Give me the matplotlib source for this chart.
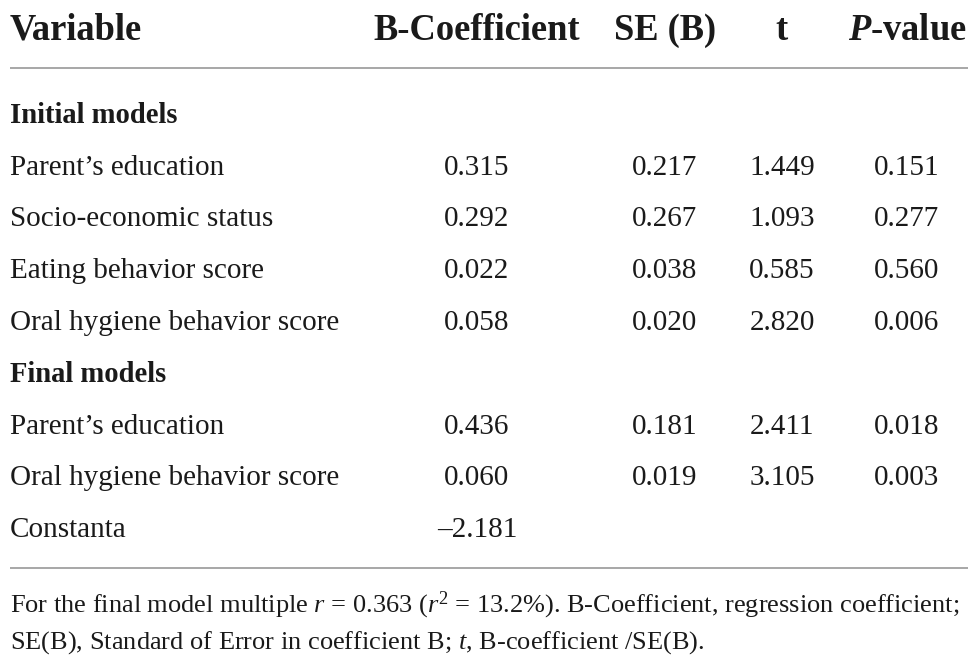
import matplotlib
matplotlib.use("Agg")
import matplotlib.pyplot as plt

# ---- table content ----
headers = ["Variable", "B-Coefficient", "SE (B)", "t", r"$\mathbfit{P}$-value"]
sections = ["Initial models", "Final models"]

initial_vars = ["Parent\u2019s education", "Socio-economic status",
                "Eating behavior score", "Oral hygiene behavior score"]
initial_b = ["0.315", "0.292", "0.022", "0.058"]
initial_se = ["0.217", "0.267", "0.038", "0.020"]
initial_t = ["1.449", "1.093", "0.585", "2.820"]
initial_p = ["0.151", "0.277", "0.560", "0.006"]

final_vars = ["Parent\u2019s education", "Oral hygiene behavior score", "Constanta"]
final_b = ["0.436", "0.060", "\u20132.181"]
final_se = ["0.181", "0.019", ""]
final_t = ["2.411", "3.105", ""]
final_p = ["0.018", "0.003", ""]

footnote = [
    r"For the final model multiple $r$ = 0.363 ($r^2$ = 13.2%). B-Coefficient, regression coefficient;",
    r"SE(B), Standard of Error in coefficient B; $t$, B-coefficient /SE(B).",
]

plt.rcParams["font.family"] = ["Liberation Serif", "DejaVu Serif"]
plt.rcParams["mathtext.fontset"] = "custom"
plt.rcParams["mathtext.rm"] = "Liberation Serif"
plt.rcParams["mathtext.it"] = "Liberation Serif:italic"
plt.rcParams["mathtext.bf"] = "Liberation Serif:bold"
plt.rcParams["mathtext.bfit"] = "Liberation Serif:bold:italic"

W, H = 979, 666
fig = plt.figure(figsize=(W / 100, H / 100), dpi=100)
ax = fig.add_axes([0, 0, 1, 1])
ax.set_xlim(0, W)
ax.set_ylim(H, 0)
ax.axis("off")

txt = "#1a1a1a"
rule = "#a0a0a0"
col_x = [10, 477, 665, 782, 907]
head_size = 26.3
sect_size = 20.6
body_size = 21
foot_size = 19

# header
ax.text(col_x[0], 40, headers[0], fontsize=head_size, fontweight="bold",
        va="baseline", ha="left", color=txt)
for x, h in zip(col_x[1:], headers[1:]):
    ax.text(x, 40, h, fontsize=head_size, fontweight="bold",
            va="baseline", ha="center", color=txt)

ax.plot([10, 968], [68, 68], color=rule, lw=1.3, solid_capstyle="butt")

# rows
row_h = 51.75
y = 123
blocks = [
    (sections[0], initial_vars, initial_b, initial_se, initial_t, initial_p),
    (sections[1], final_vars, final_b, final_se, final_t, final_p),
]
for title, names, bs, ses, ts, ps in blocks:
    ax.text(col_x[0], y, title, fontsize=sect_size, fontweight="bold",
            va="baseline", ha="left", color=txt)
    y += row_h
    for name, b, se, t, p in zip(names, bs, ses, ts, ps):
        ax.text(col_x[0], y, name, fontsize=body_size, va="baseline", ha="left", color=txt)
        for x, v in zip(col_x[1:], [b, se, t, p]):
            if v:
                ax.text(x, y, v, fontsize=body_size, va="baseline", ha="center", color=txt)
        y += row_h

ax.plot([10, 968], [568, 568], color=rule, lw=1.3, solid_capstyle="butt")

# footnote
for i, line in enumerate(footnote):
    ax.text(col_x[0], 612 + i * 37, line, fontsize=foot_size,
            va="baseline", ha="left", color=txt)

fig.savefig("out.png", dpi=100, facecolor="white")
